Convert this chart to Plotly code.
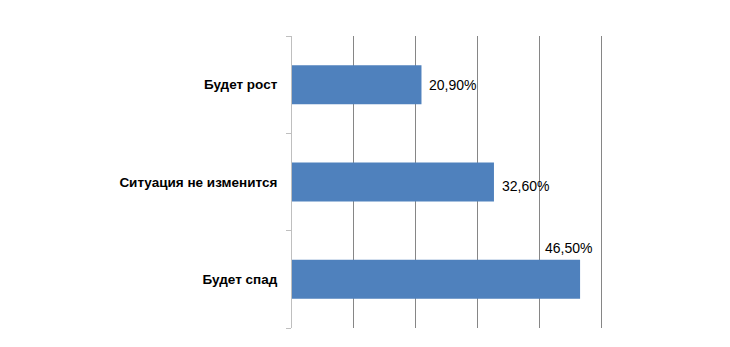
import plotly.graph_objects as go

categories = ["Будет спад", "Ситуация не изменится", "Будет рост"]
values = [46.5, 32.6, 20.9]
labels = ["46,50%", "32,60%", "20,90%"]
x_ticks = [0, 10, 20, 30, 40, 50]

fig = go.Figure()
fig.add_trace(go.Bar(
    y=categories, x=values, orientation="h",
    marker=dict(color="#4F81BD", line=dict(width=0)),
    width=0.4, hoverinfo="skip",
))

# label offsets (Excel placed the longest label above its bar)
shifts = [(-12, 31, "center"), (6, -4, "left"), (6, 0, "left")]
for c, v, t, (dx, dy, xa) in zip(categories, values, labels, shifts):
    fig.add_annotation(x=v, y=c, text=t, showarrow=False,
                       xanchor=xa, yanchor="middle", xshift=dx, yshift=dy,
                       font=dict(family="Liberation Sans, Arial, sans-serif", size=14, color="#000000"))

fig.update_layout(
    width=730, height=347,
    margin=dict(l=292, r=127, t=36, b=19),
    paper_bgcolor="white", plot_bgcolor="white",
    showlegend=False,
    bargap=0.6,
    font=dict(family="Liberation Sans, Arial, sans-serif", color="#000000"),
)
fig.update_xaxes(
    range=[0, 50.2], tickvals=x_ticks, showticklabels=False,
    showgrid=True, gridcolor="#868686", gridwidth=1,
    zeroline=False, showline=False, ticks="",
)
fig.update_yaxes(
    categoryorder="array", categoryarray=categories,
    showline=True, linecolor="#BFBFBF", linewidth=1,
    ticks="outside", ticklen=5, tickcolor="#BFBFBF", tickson="boundaries",
    showgrid=False, zeroline=False,
    tickfont=dict(family="Liberation Sans, Arial, sans-serif", size=13.5, color="#000000", weight="bold"),
    ticklabelstandoff=11,
)

fig.write_html("out.html")
